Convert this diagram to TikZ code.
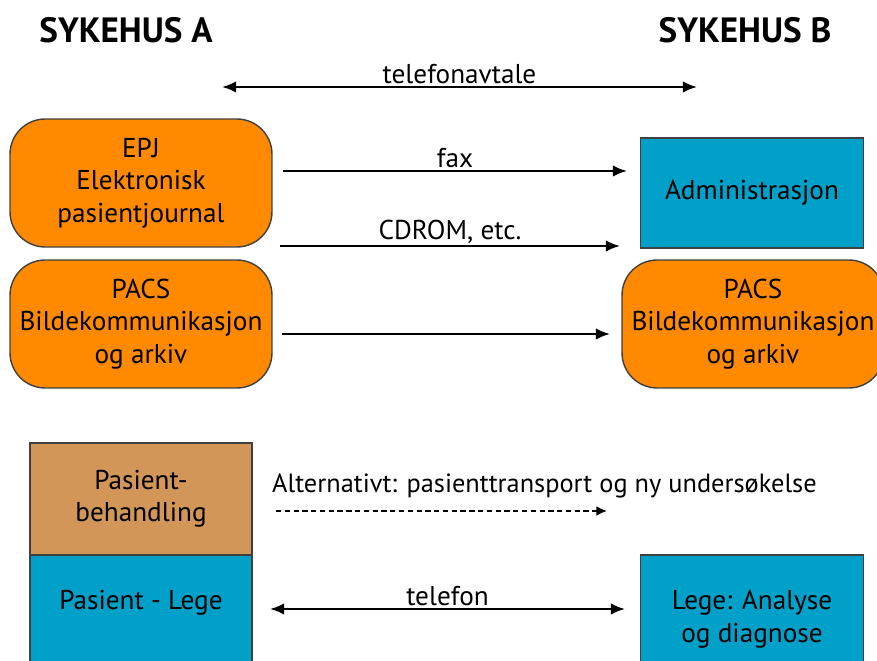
\documentclass[tikz,border=0pt]{standalone}
\usepackage{xcolor}
\usepackage{fontspec}
\setmainfont{PT Sans}
\usetikzlibrary{arrows.meta}
\definecolor{epjorange}{RGB}{255,138,0}
\definecolor{sykblue}{RGB}{0,160,200}
\definecolor{pasienttan}{RGB}{211,150,89}
\tikzset{
  font={\fontsize{15.5pt}{18.5pt}\selectfont}}

\begin{document}
\begin{tikzpicture}[x=0.02cm, y=-0.02cm]

        \tikzset{edge/.style = {-{Latex[length=8pt, width=6.5pt]}, line width=1.3pt}}
        \tikzset{twoway/.style = {{Latex[length=8pt, width=6.5pt]}-{Latex[length=8pt, width=6.5pt]}, line width=1.3pt}}
        \tikzset{box/.style = {draw=black!75, line width=0.8pt, align=center, inner sep=0pt}}
        \tikzset{lbl/.style = {above=0pt, inner sep=1pt}}

        \clip (0,0) rectangle (877,661);

        % headings
        \node[font={\fontsize{20pt}{22pt}\selectfont\bfseries}] (sykA) at (126,30) {SYKEHUS A};
        \node[font={\fontsize{20pt}{22pt}\selectfont\bfseries}] (sykB) at (745,30) {SYKEHUS B};

        % vertices
        \node[box, rounded corners=20, fill=epjorange, minimum width=5.24cm, minimum height=2.56cm] (epj)
            at (141,183) {EPJ\\Elektronisk\\pasientjournal};
        \node[box, rounded corners=20, fill=epjorange, minimum width=5.24cm, minimum height=2.56cm] (pacsA)
            at (141,324) {PACS\\Bildekommunikasjon\\og arkiv};
        \node[box, fill=sykblue, minimum width=4.46cm, minimum height=2.2cm] (admin)
            at (752,193) {Administrasjon};
        \node[box, rounded corners=20, fill=epjorange, minimum width=5.24cm, minimum height=2.56cm] (pacsB)
            at (753,324) {PACS\\Bildekommunikasjon\\og arkiv};
        \node[box, fill=pasienttan, minimum width=4.44cm, minimum height=2.24cm] (behand)
            at (141,499) {Pasient-\\behandling};
        \node[box, fill=sykblue, minimum width=4.44cm, minimum height=2.4cm, text depth=17.5pt] (lege)
            at (141,615) {Pasient - Lege};
        \node[box, fill=sykblue, minimum width=4.46cm, minimum height=2.56cm] (analyse)
            at (752,619) {Lege: Analyse\\og diagnose};

        % arrow ends
        \coordinate (avtA) at (222,87);   \coordinate (avtB) at (697,87);
        \coordinate (faxA) at (283,171);  \coordinate (faxB) at (627,171);
        \coordinate (cdA) at (280,246);   \coordinate (cdB) at (620,246);
        \coordinate (pacA) at (282,334);  \coordinate (pacB) at (610,334);
        \coordinate (altA) at (276,511);  \coordinate (altB) at (607,511);
        \coordinate (telA) at (270,609);  \coordinate (telB) at (625,609);

        %edges
        \draw[twoway] (avtA) to node [lbl] (lavt) {telefonavtale} (avtB);
        \draw[edge] (faxA) to node [lbl] (lfax) {fax} (faxB);
        \draw[edge] (cdA) to node [lbl] (lcd) {CDROM, etc.} (cdB);
        \draw[edge] (pacA) to (pacB);
        \draw[-{Latex[length=6pt, width=5.5pt]}, line width=1pt, dash pattern=on 3pt off 2pt] (altA) to (altB);
        \node[anchor=west, font={\fontsize{15pt}{18pt}\selectfont}] (lalt) at (266,486)
            {Alternativt: pasienttransport og ny undersøkelse};
        \draw[twoway] (telA) to node [lbl] (ltel) {telefon} (telB);

\end{tikzpicture}
\end{document}
